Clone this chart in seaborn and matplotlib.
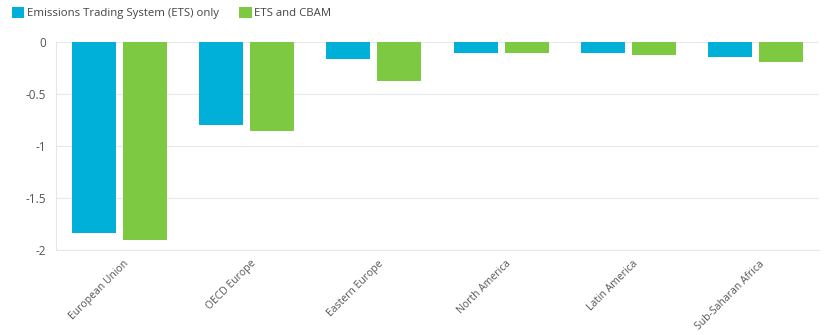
import matplotlib
matplotlib.use("Agg")
import matplotlib.pyplot as plt
import matplotlib.transforms as mtransforms
import seaborn as sns
import pandas as pd
from matplotlib.patches import Patch

categories = ["European Union", "OECD Europe", "Eastern Europe",
              "North America", "Latin America", "Sub-Saharan Africa"]
ets_only = [-1.84, -0.795, -0.163, -0.103, -0.103, -0.144]
ets_cbam = [-1.907, -0.852, -0.372, -0.101, -0.122, -0.192]
series_names = ["Emissions Trading System (ETS) only", "ETS and CBAM"]
yticks = [0, -0.5, -1, -1.5, -2]
ytick_labels = ["0", "-0.5", "-1", "-1.5", "-2"]

colors = ["#00B0D8", "#7DC942"]

df = pd.DataFrame({
    "region": categories * 2,
    "series": [series_names[0]] * len(categories) + [series_names[1]] * len(categories),
    "value": ets_only + ets_cbam,
})

sns.set_theme(style="white")
plt.rcParams["font.family"] = ["Open Sans", "DejaVu Sans"]

fig = plt.figure(figsize=(8.28, 3.35), dpi=100)
ax = fig.add_axes([56 / 828, (335 - 250) / 335, (819 - 56) / 828, (250 - 42) / 335])

sns.barplot(data=df, x="region", y="value", hue="series", order=categories,
            hue_order=series_names, palette=colors, width=0.8, ax=ax,
            legend=False, saturation=1, edgecolor="none")

# create gap between paired bars
shrink = 0.054
for p in ax.patches:
    w = p.get_width()
    p.set_x(p.get_x() + shrink / 2)
    p.set_width(w - shrink)

ax.set_ylim(-2, 0)
ax.set_xlim(-0.5, len(categories) - 0.5)
ax.set_yticks(yticks)
ax.set_yticklabels(ytick_labels)
ax.set_xlabel("")
ax.set_ylabel("")
ax.yaxis.grid(True, color="#e8e8e8", linewidth=0.8)
ax.set_axisbelow(True)
for s in ["top", "right"]:
    ax.spines[s].set_visible(False)
ax.spines["left"].set_color("#e6e6e6")
ax.spines["bottom"].set_color("#e6e6e6")
ax.spines["left"].set_linewidth(0.8)
ax.spines["bottom"].set_linewidth(0.8)
ax.tick_params(axis="y", length=4, color="#e6e6e6", labelsize=8.5, labelcolor="#555555", pad=3)
ax.tick_params(axis="x", length=4, color="#e6e6e6", labelsize=7.5, labelcolor="#555555", pad=2)
offset = mtransforms.ScaledTranslation(4 / 100, 0, fig.dpi_scale_trans)
for lbl in ax.get_xticklabels():
    lbl.set_rotation(45)
    lbl.set_ha("right")
    lbl.set_va("top")
    lbl.set_rotation_mode("anchor")
    lbl.set_transform(lbl.get_transform() + offset)

handles = [Patch(facecolor=c, edgecolor="none") for c in colors]
fig.legend(handles, series_names, loc="upper left", bbox_to_anchor=(0.002, 1.01),
           ncol=2, frameon=False, fontsize=8.2, handlelength=1.1, handleheight=1.1,
           handletextpad=0.2, columnspacing=1.8, labelcolor="#444444")

fig.savefig("out.png", dpi=100)
